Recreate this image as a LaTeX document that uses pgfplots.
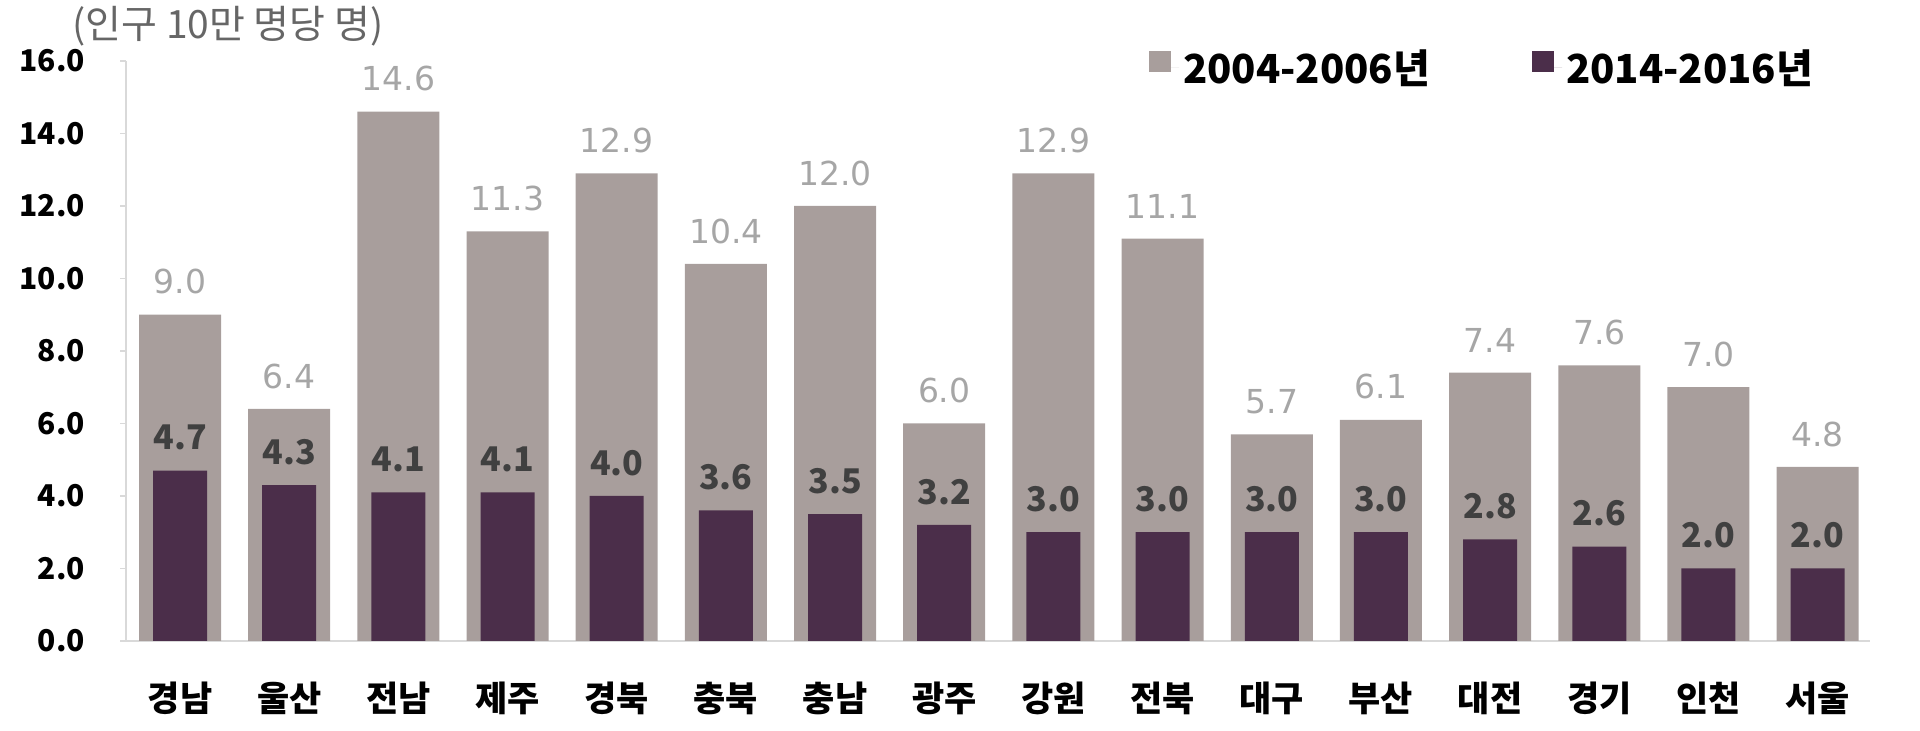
\documentclass[border=0pt]{standalone}
\usepackage{fontspec}
\setmainfont{Noto Sans CJK KR}
\newfontfamily\numfont{DejaVu Sans}
\usepackage{pgfplots}
\pgfplotsset{compat=1.18}
\definecolor{lightbar}{HTML}{A89E9C}
\definecolor{darkbar}{HTML}{4B2E4A}
\definecolor{lightlab}{HTML}{A6A6A6}
\definecolor{darklab}{HTML}{404040}
\definecolor{axisgrey}{HTML}{D9D9D9}
\definecolor{titlegrey}{HTML}{666666}
\begin{document}
\begin{tikzpicture}
\useasboundingbox (0,0) rectangle (960pt,365.5pt);
\node[anchor=west, text=titlegrey, font=\fontsize{19.5}{19.5}\selectfont, inner sep=0pt] at (36pt,352.5pt) {(인구 10만 명당 명)};
\begin{axis}[
  at={(63pt,45pt)}, anchor=south west,
  scale only axis, width=872pt, height=290pt,
  clip=false,
  xmin=-0.495, xmax=15.48, ymin=0, ymax=16,
  ytick={0,2,...,16},
  xtick={0,...,15},
  xticklabels={경남,울산,전남,제주,경북,충북,충남,광주,강원,전북,대구,부산,대전,경기,인천,서울},
  axis x line*=bottom, axis y line*=left,
  x axis line style={draw=axisgrey, line width=1pt, -},
  y axis line style={draw=axisgrey, line width=1pt, -},
  xtick style={draw=none},
  ytick style={draw=axisgrey, line width=0.8pt},
  tick align=outside, major tick length=3pt,
  yticklabel style={font=\fontsize{15}{15}\selectfont\bfseries, xshift=-14pt},
  xticklabel style={font=\fontsize{17.5}{17.5}\selectfont\bfseries, yshift=-14pt},
  /pgf/number format/fixed, /pgf/number format/fixed zerofill, /pgf/number format/precision=1,
  /pgf/number format/assume math mode=true,
  legend style={at={(0.583,0.988)}, anchor=west, draw=none, fill=none, legend columns=2,
    font=\fontsize{20}{20}\selectfont\bfseries,
    /tikz/every even column/.append style={column sep=49pt}},
]
\addplot[ybar, bar width=41pt, bar shift=0pt, fill=lightbar, draw=none,
  legend image code/.code={\fill[lightbar] (0pt,-2pt) rectangle (11pt,8.5pt); \path (0pt,0pt) -- (15pt,0pt);},
  nodes near coords,
  every node near coord/.append style={font=\numfont\fontsize{16.5}{16.5}\selectfont, text=lightlab, inner sep=0pt, anchor=south, yshift=10pt}]
  coordinates {(0,9.0) (1,6.4) (2,14.6) (3,11.3) (4,12.9) (5,10.4) (6,12.0) (7,6.0) (8,12.9) (9,11.1) (10,5.7) (11,6.1) (12,7.4) (13,7.6) (14,7.0) (15,4.8)};
\addplot[ybar, bar width=27pt, bar shift=0pt, fill=darkbar, draw=none,
  legend image code/.code={\fill[darkbar] (0pt,-2pt) rectangle (11pt,8.5pt); \path (0pt,0pt) -- (15pt,0pt);},
  nodes near coords,
  every node near coord/.append style={font=\fontsize{17}{17}\selectfont\bfseries, text=darklab, inner sep=0pt, anchor=south, yshift=10pt}]
  coordinates {(0,4.7) (1,4.3) (2,4.1) (3,4.1) (4,4.0) (5,3.6) (6,3.5) (7,3.2) (8,3.0) (9,3.0) (10,3.0) (11,3.0) (12,2.8) (13,2.6) (14,2.0) (15,2.0)};
\legend{2004-2006년, 2014-2016년}
\end{axis}
\end{tikzpicture}
\end{document}
